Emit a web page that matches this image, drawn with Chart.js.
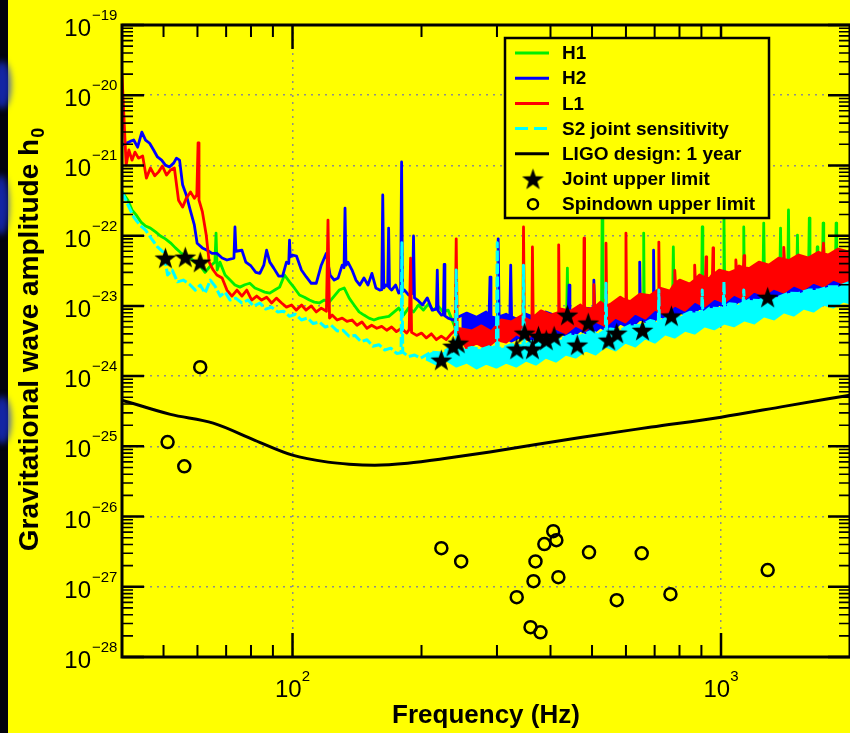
<!DOCTYPE html>
<html>
<head>
<meta charset="utf-8">
<title>S2 pulsar upper limits</title>
<script src="https://cdn.jsdelivr.net/npm/chart.js@4.4.1/dist/chart.umd.min.js"></script>
<style>
  html, body { margin: 0; padding: 0; background: #03030c; overflow: hidden; }
  canvas { display: block; }
</style>
</head>
<body>
<canvas id="chart" width="862" height="733"></canvas>
<script>
// values (Hz, strain amplitude)

// H1
const h1Freq = [
  40, 41.3, 42.2, 43.1, 44.3, 45.4, 46.6, 47.9, 49.2, 50.5,
  51.9, 53.3, 54.7, 56.2, 57.7, 59.3, 60.9, 62.5, 64.3, 65.9,
  66.3, 66.7, 67.7, 69.6, 71.5, 73.4, 75.4, 77.4, 79.5, 81.7,
  83.9, 86.1, 88.5, 90.9, 93.3, 95.8, 98.4, 101, 103.8, 106.6,
  109.5, 112.4, 115.5, 118.6, 121.8, 125.1, 128.5, 132, 135.6, 139.2,
  143, 146.8, 150.8, 154.9, 159.1, 167.8, 176.9, 181.6, 186.5, 191.6,
  196.8, 202, 207.5, 213, 218.8, 224.6, 230.7, 241, 270, 300,
  350, 400, 436, 438, 440, 480, 526, 528, 530, 600,
  658, 660, 662, 720, 771, 774, 777, 840, 901, 904,
  907, 960, 1012, 1016, 1020, 1070, 1126, 1130, 1134, 1190,
  1253, 1258, 1263, 1320, 1372, 1377, 1382, 1432, 1437, 1442,
  1503, 1508, 1513, 1555, 1601, 1607, 1613, 1671, 1677, 1683,
  1725, 1731, 1737, 1790, 1850, 1856, 1862, 2000
];
const h1Amp = [
  4.2e-22, 3.2e-22, 2.33e-22, 2.0e-22, 1.56e-22, 1.37e-22, 1.28e-22, 1.13e-22, 9.9e-23, 9.0e-23,
  7.9e-23, 6.7e-23, 5.8e-23, 5.1e-23, 4.8e-23, 4.2e-23, 3.7e-23, 3.0e-23, 3.7e-23, 4.2e-23,
  1.09e-22, 3.24e-23, 4.2e-23, 2.75e-23, 2.33e-23, 1.98e-23, 1.85e-23, 2.0e-23, 2.1e-23, 1.8e-23,
  1.68e-23, 1.57e-23, 1.52e-23, 1.68e-23, 1.85e-23, 2.75e-23, 2.2e-23, 1.8e-23, 1.43e-23, 1.33e-23,
  1.21e-23, 1.13e-23, 1.1e-23, 1.21e-23, 1.13e-23, 1.38e-23, 1.68e-23, 1.8e-23, 1.29e-23, 1.03e-23,
  8.2e-24, 7.4e-24, 6.7e-24, 6.3e-24, 6.7e-24, 7.1e-24, 9.3e-24, 7.4e-24, 9.3e-24, 8.2e-24,
  1.03e-23, 8.7e-24, 1.06e-23, 8.7e-24, 9.9e-24, 8.2e-24, 8.7e-24, 4.5e-24, 3.8e-24, 4.4e-24,
  5.0e-24, 5.6e-24, 5.0e-24, 3.45e-23, 5.0e-24, 5.8e-24, 6.5e-24, 2.32e-22, 6.5e-24, 8.0e-24,
  1.0e-23, 1.09e-22, 1.0e-23, 1.2e-23, 1.3e-23, 6.9e-23, 1.3e-23, 1.45e-23, 1.6e-23, 1.33e-22,
  1.6e-23, 1.75e-23, 1.9e-23, 1.97e-22, 1.9e-23, 2.05e-23, 2.2e-23, 1.33e-22, 2.2e-23, 2.35e-23,
  2.5e-23, 1.51e-22, 2.5e-23, 2.65e-23, 2.8e-23, 1.28e-22, 2.8e-23, 2.9e-23, 2.32e-22, 2.9e-23,
  3.0e-23, 1.02e-22, 3.0e-23, 3.1e-23, 3.2e-23, 1.78e-22, 3.2e-23, 3.4e-23, 6.9e-23, 3.4e-23,
  3.5e-23, 1.51e-22, 3.5e-23, 3.65e-23, 3.8e-23, 1.51e-22, 3.8e-23, 4.05e-23
];

// H2 (upper edge of the trace, then the floor of its band)
const h2Freq = [
  40, 40.9, 41.8, 42.6, 43.5, 44.5, 45.4, 46.4, 47.4, 48.4,
  49.5, 50.5, 51.6, 52.8, 53.6, 54.5, 55.4, 56.5, 57.7, 59,
  59.9, 61.6, 63.2, 64.9, 66.6, 68.5, 70.3, 73.0, 73.4, 73.8,
  76.2, 77.8, 80, 82.1, 83.9, 85.7, 87, 88.5, 90.4, 92.8,
  94.8, 96.8, 98, 98.4, 98.8, 100, 102.2, 104.9, 107.7, 110.6,
  113.6, 116.7, 119.9, 122.4, 125.1, 127.8, 130.6, 131.9, 132.6, 133.3,
  134.7, 137.7, 140.6, 143.6, 146.8, 150, 153.2, 156.5, 159.8, 161.5,
  162.4, 163.3, 165, 166.8, 167.6, 168.4, 170.3, 174, 176.9, 178.8,
  179.7, 180.6, 182.5, 186.5, 190.6, 191.6, 192.6, 195.8, 201, 206.3,
  211.8, 216.7, 217.7, 218.7, 222.6, 225, 225.9, 226.8, 230.7, 237,
  241, 255, 269, 283, 287.5, 289, 290.5, 299, 301, 302,
  303.5, 315, 321.5, 323, 324.5, 333, 351, 370, 390, 412,
  434, 440, 442, 444, 458, 483, 503, 505, 507, 509,
  537, 567, 598, 630, 644, 646, 648, 665, 694, 696,
  698, 701, 740, 780, 823, 868, 915, 965, 1018, 1073,
  1132, 1194, 1259, 1328, 1401, 1478, 1559, 1644, 1734, 1829,
  1929, 2000
];
const h2Amp = [
  1.95e-21, 2.07e-21, 2.2e-21, 2.3e-21, 1.82e-21, 2.98e-21, 2.3e-21, 2.07e-21, 1.66e-21, 1.32e-21,
  1.19e-21, 1.01e-21, 9.5e-22, 1.08e-21, 1.27e-21, 1.19e-21, 5.3e-22, 3.8e-22, 2.33e-22, 1.42e-22,
  7.8e-23, 6.7e-23, 6.2e-23, 5.6e-23, 5.6e-23, 4.8e-23, 4.5e-23, 4.8e-23, 1.33e-22, 6.0e-23,
  6.2e-23, 4.2e-23, 3.7e-23, 3.0e-23, 2.9e-23, 3.8e-23, 6.2e-23, 4.2e-23, 3.45e-23, 2.66e-23,
  2.66e-23, 4.2e-23, 4.0e-23, 8.6e-23, 5.0e-23, 5.3e-23, 5.1e-23, 3.24e-23, 2.58e-23, 2.1e-23,
  2.1e-23, 3.8e-23, 5.6e-23, 2.75e-23, 2.33e-23, 2.5e-23, 3.8e-23, 3.5e-23, 2.46e-22, 3.8e-23,
  4.2e-23, 3.24e-23, 2.33e-23, 1.98e-23, 2.5e-23, 1.98e-23, 2.9e-23, 1.8e-23, 1.68e-23, 1.7e-23,
  3.8e-22, 1.8e-23, 1.98e-23, 1.9e-23, 1.28e-22, 1.8e-23, 1.68e-23, 1.98e-23, 1.52e-23, 1.6e-23,
  1.12e-21, 1.6e-23, 1.68e-23, 1.43e-23, 1.5e-23, 9.9e-23, 1.3e-23, 1.21e-23, 1.03e-23, 1.3e-23,
  8.7e-24, 9.0e-24, 3.24e-23, 8.5e-24, 7.4e-24, 7.5e-24, 3.9e-23, 7.2e-24, 6.7e-24, 6.3e-24,
  6.7e-24, 7.9e-24, 6.9e-24, 8.2e-24, 7.0e-24, 2.57e-23, 7.0e-24, 6.7e-24, 6.8e-24, 9.0e-23,
  7.0e-24, 7.6e-24, 7.0e-24, 3.8e-23, 7.0e-24, 6.5e-24, 7.6e-24, 6.7e-24, 8.2e-24, 7.2e-24,
  8.7e-24, 8.0e-24, 1.98e-23, 8.0e-24, 7.6e-24, 9.3e-24, 9.0e-24, 2.33e-23, 9.0e-24, 8.2e-24,
  1.03e-23, 9.0e-24, 1.13e-23, 9.9e-24, 1.2e-23, 4.2e-23, 1.2e-23, 1.29e-23, 1.4e-23, 6.2e-23,
  1.4e-23, 1.13e-23, 1.47e-23, 1.29e-23, 1.62e-23, 1.43e-23, 1.79e-23, 1.57e-23, 1.98e-23, 1.73e-23,
  2.18e-23, 1.91e-23, 2.4e-23, 2.1e-23, 2.66e-23, 2.33e-23, 2.84e-23, 2.58e-23, 3.13e-23, 2.75e-23,
  3.45e-23, 3.24e-23
];
const h2FloorFreq = [
  248, 262, 276, 291, 307, 324, 342, 360, 380, 401,
  423, 446, 470, 496, 523, 552, 582, 614, 647, 683,
  720, 760, 801, 845, 891, 940, 991, 1045, 1102, 1163,
  1226, 1293, 1364, 1439, 1518, 1601, 1688, 1781, 1878, 1981,
  2000
];
const h2FloorAmp = [
  4.2e-24, 3.4e-24, 4.0e-24, 3.3e-24, 3.85e-24, 3.15e-24, 3.7e-24, 3.15e-24, 3.85e-24, 3.3e-24,
  4.1e-24, 3.5e-24, 4.5e-24, 3.85e-24, 5.0e-24, 4.2e-24, 5.7e-24, 4.8e-24, 6.5e-24, 5.5e-24,
  7.2e-24, 6.3e-24, 8.2e-24, 7.2e-24, 9.3e-24, 8.2e-24, 1.06e-23, 9.3e-24, 1.17e-23, 1.03e-23,
  1.29e-23, 1.17e-23, 1.43e-23, 1.29e-23, 1.57e-23, 1.43e-23, 1.73e-23, 1.57e-23, 1.98e-23, 1.73e-23,
  1.91e-23
];

// L1
const l1Freq = [
  40, 40.9, 41.5, 42.2, 42.9, 43.7, 44.7, 45.6, 46.6, 47.7,
  48.7, 49.7, 50.8, 51.9, 53, 54.2, 55.4, 56.5, 57.8, 59,
  59.8, 60.2, 60.5, 61.6, 62.9, 63.9, 65.3, 66.6, 68.5, 70.3,
  72.2, 74.2, 76.2, 78.2, 80.3, 82.5, 84.7, 87, 89.4, 91.7,
  94.3, 96.8, 99.5, 102, 105, 107.5, 110.6, 113.6, 116.7, 120,
  121, 122, 123.7, 127.1, 130.6, 134, 137.7, 141.4, 145.2, 149.2,
  153, 157.3, 161.5, 165.9, 170.3, 174.8, 179.7, 184.6, 187.2, 188.6,
  189.6, 194.8, 200, 205.3, 210.9, 216.6, 222.4, 228.4, 234.5, 239.6,
  241, 242.3,
  248, 262, 276, 291, 307, 324, 342, 345, 346, 347.5,
  360, 362, 363, 364.5, 380, 401, 417, 418, 419.5, 423,
  446, 470, 478, 479, 480.5, 496, 503, 505, 507, 523,
  538, 539, 541, 552, 582, 598, 600, 602, 614, 647,
  683, 714, 716, 718, 720, 760, 777, 780, 783, 801,
  845, 865, 868, 871, 891, 920, 923, 926, 940, 955,
  958, 961, 991, 1045, 1079, 1083, 1087, 1102, 1128, 1132,
  1136, 1163, 1226, 1293, 1364, 1396, 1401, 1406, 1439, 1518,
  1601, 1688, 1728, 1734, 1740, 1781, 1878, 1981, 2000
];
const l1Amp = [
  1.94e-20, 1.01e-21, 1.66e-21, 1.19e-21, 1.55e-21, 1.27e-21, 1.36e-21, 6.6e-22, 9.2e-22, 7.1e-22,
  8.1e-22, 9.8e-22, 7.3e-22, 8.6e-22, 9.2e-22, 3.2e-22, 2.55e-22, 3.4e-22, 4.2e-22, 3.4e-22,
  3.8e-22, 2.1e-21, 3.2e-22, 2.2e-22, 1.02e-22, 4.2e-23, 3.24e-23, 2.75e-23, 2.5e-23, 1.68e-23,
  1.38e-23, 1.68e-23, 1.38e-23, 1.68e-23, 1.21e-23, 1.38e-23, 1.21e-23, 1.33e-23, 1.1e-23, 1.29e-23,
  1.1e-23, 9.6e-24, 1.03e-23, 8.7e-24, 1.03e-23, 8.7e-24, 1.0e-23, 8.2e-24, 9.3e-24, 8.4e-24,
  1.67e-22, 6.7e-24, 7.4e-24, 6.3e-24, 6.7e-24, 6.0e-24, 6.3e-24, 5.3e-24, 5.9e-24, 4.8e-24,
  5.3e-24, 4.8e-24, 5.1e-24, 4.5e-24, 5.0e-24, 4.3e-24, 4.8e-24, 4.1e-24, 4.6e-24, 4.8e-23,
  4.2e-24, 3.8e-24, 4.1e-24, 3.5e-24, 4.0e-24, 3.3e-24, 3.7e-24, 3.3e-24, 4.0e-24, 4.5e-24,
  9.0e-23, 4.8e-24,
  4.7e-24, 4.4e-24, 5.2e-24, 4.3e-24, 6.3e-24, 5.9e-24, 7.2e-24, 7.0e-24, 1.33e-22, 6.8e-24,
  6.0e-24, 6.5e-24, 6.9e-23, 6.8e-24, 8.5e-24, 7.4e-24, 8.0e-24, 7.4e-23, 8.2e-24, 9.0e-24,
  8.4e-24, 1.03e-23, 9.0e-24, 9.2e-23, 9.3e-24, 9.0e-24, 9.5e-24, 2.0e-23, 9.5e-24, 1.13e-23,
  1.0e-23, 7.8e-23, 1.0e-23, 1.05e-23, 1.33e-23, 1.2e-23, 1.09e-22, 1.2e-23, 1.15e-23, 1.47e-23,
  1.4e-23, 1.7e-23, 8.1e-23, 1.75e-23, 1.79e-23, 1.62e-23, 2.0e-23, 3.2e-23, 2.1e-23, 2.33e-23,
  2.05e-23, 2.3e-23, 3.8e-23, 2.4e-23, 2.75e-23, 2.5e-23, 5.0e-23, 2.5e-23, 2.45e-23, 2.8e-23,
  6.7e-23, 2.8e-23, 3.24e-23, 2.95e-23, 3.2e-23, 4.5e-23, 3.2e-23, 3.7e-23, 3.5e-23, 5.2e-23,
  3.5e-23, 3.4e-23, 4.2e-23, 3.8e-23, 4.8e-23, 4.6e-23, 6.8e-23, 4.6e-23, 4.4e-23, 5.3e-23,
  4.8e-23, 5.8e-23, 5.5e-23, 7.8e-23, 5.5e-23, 5.3e-23, 6.45e-23, 5.9e-23, 6.2e-23
];
const l1FloorFreq = [
  241, 255, 269, 283, 299, 315, 333, 351, 370, 390,
  412, 434, 458, 483, 509, 537, 567, 598, 630, 665,
  701, 740, 780, 823, 868, 915, 965, 1018, 1073, 1132,
  1194, 1259, 1328, 1401, 1478, 1559, 1644, 1734, 1829, 1929,
  2000
];
const l1FloorAmp = [
  4.4e-24, 2.5e-24, 2.95e-24, 2.5e-24, 3.3e-24, 3.05e-24, 4.0e-24, 3.4e-24, 4.35e-24, 3.7e-24,
  4.8e-24, 4.1e-24, 5.3e-24, 4.5e-24, 6.1e-24, 5.2e-24, 6.9e-24, 5.9e-24, 7.9e-24, 6.7e-24,
  9.0e-24, 7.6e-24, 1.03e-23, 8.7e-24, 1.17e-23, 9.9e-24, 1.29e-23, 1.13e-23, 1.47e-23, 1.25e-23,
  1.62e-23, 1.43e-23, 1.79e-23, 1.57e-23, 1.98e-23, 1.73e-23, 2.18e-23, 1.91e-23, 2.4e-23, 2.1e-23,
  2.49e-23
];

// S2 joint sensitivity
const s2Freq = [
  40, 41.3, 42.6, 44, 45.4, 46.9, 48.4, 50, 51.1, 52.4,
  53.9, 55.6, 57.4, 59.3, 60.9, 62.5, 64.3, 66, 67.8, 69.6,
  71.5, 73.7, 76.2, 78.7, 81.2, 83.9, 86.6, 89.4, 92.3, 95.3,
  98.4, 101.6, 104.9, 108.3, 111.8, 115.5, 119.2, 123.1, 127.1, 131.2,
  135.5, 139.9, 144.4, 149.2, 154, 159.1, 164.2, 169.6, 175.1, 179.2,
  180, 180.8, 186.5, 192.7, 199, 211, 223, 235, 240, 241,
  242.5, 248, 262, 276, 291, 299, 300.5, 302, 307, 324,
  342, 345, 346, 347.5, 360, 380, 401, 423, 446, 470,
  496, 523, 537, 539, 541, 552, 582, 614, 647, 683,
  714, 716, 718, 720, 760, 801, 845, 891, 901, 904,
  907, 940, 991, 1012, 1016, 1020, 1045, 1102, 1126, 1130,
  1134, 1163, 1226, 1293, 1364, 1439, 1518, 1601, 1688, 1781,
  1878, 1981, 2000
];
const s2Amp = [
  4.2e-22, 2.75e-22, 1.84e-22, 1.42e-22, 1.2e-22, 9.0e-23, 6.9e-23, 5.8e-23, 2.75e-23, 3.24e-23,
  2.2e-23, 2.33e-23, 2.05e-23, 1.68e-23, 1.98e-23, 1.52e-23, 2.33e-23, 1.9e-23, 1.38e-23, 1.57e-23,
  1.21e-23, 1.29e-23, 1.1e-23, 1.21e-23, 9.9e-24, 1.1e-23, 9.0e-24, 9.6e-24, 8.2e-24, 8.4e-24,
  7.1e-24, 7.6e-24, 6.3e-24, 6.7e-24, 5.6e-24, 5.9e-24, 5.0e-24, 5.3e-24, 4.4e-24, 4.5e-24,
  3.7e-24, 3.8e-24, 3.1e-24, 3.3e-24, 2.66e-24, 2.8e-24, 2.35e-24, 2.5e-24, 2.1e-24, 2.15e-24,
  7.9e-23, 2.2e-24, 1.9e-24, 2.0e-24, 1.8e-24, 2.2e-24, 2.13e-24, 2.59e-24, 2.4e-24, 3.24e-23,
  2.4e-24, 2.35e-24, 2.55e-24, 2.4e-24, 2.7e-24, 2.5e-24, 7.9e-23, 2.5e-24, 2.5e-24, 2.8e-24,
  2.7e-24, 2.7e-24, 3.8e-23, 2.7e-24, 3.1e-24, 3.0e-24, 3.5e-24, 3.3e-24, 3.9e-24, 3.7e-24,
  4.3e-24, 4.0e-24, 4.5e-24, 2.1e-23, 4.5e-24, 4.7e-24, 4.5e-24, 5.3e-24, 5.2e-24, 6.2e-24,
  5.8e-24, 1.68e-23, 5.8e-24, 6.0e-24, 7.1e-24, 7.0e-24, 8.1e-24, 8.0e-24, 7.8e-24, 1.68e-23,
  7.8e-24, 9.3e-24, 9.2e-24, 9.5e-24, 2.2e-23, 9.5e-24, 1.07e-23, 1.04e-23, 1.1e-23, 1.68e-23,
  1.1e-23, 1.21e-23, 1.19e-23, 1.35e-23, 1.33e-23, 1.52e-23, 1.5e-23, 1.68e-23, 1.68e-23, 1.87e-23,
  1.87e-23, 2.12e-23, 2.1e-23
];
const s2FloorFreq = [
  205, 217, 229, 241, 255, 269, 283, 299, 315, 333,
  351, 370, 390, 412, 434, 458, 483, 509, 537, 567,
  598, 630, 665, 701, 740, 780, 823, 868, 915, 965,
  1018, 1073, 1132, 1194, 1259, 1328, 1401, 1478, 1559, 1644,
  1734, 1829, 1929, 2000
];
const s2FloorAmp = [
  1.75e-24, 1.48e-24, 1.69e-24, 1.39e-24, 1.58e-24, 1.3e-24, 1.53e-24, 1.34e-24, 1.58e-24, 1.39e-24,
  1.69e-24, 1.48e-24, 1.86e-24, 1.63e-24, 2.06e-24, 1.86e-24, 2.35e-24, 2.06e-24, 2.68e-24, 2.35e-24,
  3.05e-24, 2.68e-24, 3.5e-24, 3.05e-24, 4.0e-24, 3.6e-24, 4.5e-24, 4.1e-24, 5.2e-24, 4.7e-24,
  5.7e-24, 5.2e-24, 6.3e-24, 5.7e-24, 7.2e-24, 6.5e-24, 8.2e-24, 7.4e-24, 9.3e-24, 8.4e-24,
  1.06e-23, 9.6e-24, 1.17e-23, 1.1e-23
];

// LIGO design, 1 year
const designFreq = [40, 51.9, 65.3, 81.7, 100, 121, 135.5, 155.6, 185.6, 230.7, 288.8, 474, 688, 1000, 1414, 2000];
const designAmp = [4.55e-25, 2.85e-25, 2.14e-25, 1.22e-25, 7.5e-26, 5.96e-26, 5.57e-26, 5.4e-26, 5.75e-26, 6.8e-26, 8.3e-26, 1.35e-25, 1.88e-25, 2.6e-25, 3.74e-25, 5.36e-25];

// joint upper limits (stars)
const jointFreq = [50.5, 56.2, 60.9, 222.5, 237, 243.6, 333.6, 348, 363, 375, 391, 408, 438, 462, 490, 547, 571, 656, 766, 1285];
const jointAmp = [4.8e-23, 4.95e-23, 4.2e-23, 1.69e-24, 2.67e-24, 2.95e-24, 2.43e-24, 4.1e-24, 2.43e-24, 3.7e-24, 3.26e-24, 3.7e-24, 7.4e-24, 2.77e-24, 5.7e-24, 3.26e-24, 4.1e-24, 4.5e-24, 7.2e-24, 1.33e-23];

// spindown upper limits (circles)
const spindownFreq = [51.1, 55.9, 60.9, 222.5, 247.5, 333.6, 359.3, 365.1, 369, 379, 387, 406, 412.8, 417.3, 492, 571, 653, 762, 1285];
const spindownAmp = [1.15e-25, 5.2e-26, 1.34e-24, 3.55e-27, 2.3e-27, 7.1e-28, 2.66e-28, 1.2e-27, 2.3e-27, 2.25e-28, 4.05e-27, 6.2e-27, 4.6e-27, 1.37e-27, 3.1e-27, 6.45e-28, 3.0e-27, 7.85e-28, 1.73e-27];

// axes
const xRange = [40, 2000];
const yRange = [1e-28, 1e-19];
const xTickValues = [100, 1000];
const yTickExponents = [-28, -27, -26, -25, -24, -23, -22, -21, -20, -19];
const xTitle = "Frequency (Hz)";
const yTitle = "Gravitational wave amplitude h";
const yTitleSub = "0";

const FONT = "'Liberation Sans', Arial, Helvetica, sans-serif";

function pairs(fs, as) {
  return fs.map((f, i) => ({ x: f, y: as[i] }));
}

// filled five-point star used as the marker
function makeStar(size) {
  const c = document.createElement("canvas");
  c.width = c.height = size;
  const g = c.getContext("2d");
  g.translate(size / 2, size / 2 + 1);
  g.beginPath();
  for (let i = 0; i < 10; i++) {
    const r = i % 2 === 0 ? size / 2 : size * 0.2;
    const a = -Math.PI / 2 + i * Math.PI / 5;
    g.lineTo(r * Math.cos(a), r * Math.sin(a));
  }
  g.closePath();
  g.fillStyle = "#000";
  g.fill();
  return c;
}
const star = makeStar(23);

// yellow page with the dark slide edge on the left
const background = {
  id: "background",
  beforeDraw(chart) {
    const ctx = chart.ctx;
    ctx.save();
    ctx.fillStyle = "#ffff00";
    ctx.fillRect(0, 0, chart.width, chart.height);
    ctx.fillStyle = "#03030c";
    ctx.fillRect(0, 0, 8, chart.height);
    ctx.filter = "blur(3px)";
    ctx.fillStyle = "rgba(25, 50, 215, 0.75)";
    [[2, 85, 9, 24], [1, 205, 8, 30], [2, 420, 9, 24]].forEach(([cx, cy, rx, ry]) => {
      ctx.beginPath();
      ctx.ellipse(cx, cy, rx, ry, 0, 0, Math.PI * 2);
      ctx.fill();
    });
    ctx.restore();
  }
};

// box and inward ticks on all four sides
const axisFrame = {
  id: "axisFrame",
  afterDatasetsDraw(chart) {
    const { ctx, chartArea: a, scales } = chart;
    const xs = scales.x, ys = scales.y;
    ctx.save();
    ctx.strokeStyle = "#000";
    for (let e = 1; e <= 3; e++) {
      for (let m = 1; m <= 9; m++) {
        const v = m * Math.pow(10, e);
        if (v < xs.min || v > xs.max) continue;
        const px = xs.getPixelForValue(v);
        const len = m === 1 ? 24 : 12;
        ctx.lineWidth = m === 1 ? 2.5 : 2;
        ctx.beginPath();
        ctx.moveTo(px, a.bottom); ctx.lineTo(px, a.bottom - len);
        ctx.moveTo(px, a.top); ctx.lineTo(px, a.top + len);
        ctx.stroke();
      }
    }
    for (let e = -28; e <= -19; e++) {
      for (let m = 1; m <= 9; m++) {
        const v = m * Math.pow(10, e);
        if (v > ys.max * 1.001) continue;
        const py = ys.getPixelForValue(v);
        const len = m === 1 ? 22 : 11;
        ctx.lineWidth = m === 1 ? 2.5 : 1.6;
        ctx.beginPath();
        ctx.moveTo(a.left, py); ctx.lineTo(a.left + len, py);
        ctx.moveTo(a.right, py); ctx.lineTo(a.right - len, py);
        ctx.stroke();
      }
    }
    ctx.lineWidth = 3;
    ctx.strokeRect(a.left, a.top, a.right - a.left, a.bottom - a.top);
    ctx.restore();
  }
};

// power-of-ten tick labels and axis titles
const axisText = {
  id: "axisText",
  afterDraw(chart) {
    const { ctx, chartArea: a, scales } = chart;
    ctx.save();
    ctx.fillStyle = "#000";
    ctx.textBaseline = "alphabetic";

    xTickValues.forEach(v => {
      const px = scales.x.getPixelForValue(v);
      const exp = String(Math.round(Math.log10(v)));
      ctx.font = "24px " + FONT;
      const wb = ctx.measureText("10").width;
      ctx.font = "15px " + FONT;
      const we = ctx.measureText(exp).width;
      const sx = px - (wb + we) / 2;
      ctx.textAlign = "left";
      ctx.font = "24px " + FONT;
      ctx.fillText("10", sx, 697);
      ctx.font = "15px " + FONT;
      ctx.fillText(exp, sx + wb, 681);
    });

    yTickExponents.forEach(e => {
      const py = scales.y.getPixelForValue(Math.pow(10, e));
      ctx.font = "24px " + FONT;
      ctx.textAlign = "right";
      ctx.fillText("10", 91, py + 11);
      ctx.font = "15px " + FONT;
      ctx.textAlign = "left";
      ctx.fillText("\u2212" + Math.abs(e), 92, py - 5);
    });

    ctx.font = "bold 26px " + FONT;
    ctx.textAlign = "center";
    ctx.fillText(xTitle, (a.left + a.right) / 2, 723);

    ctx.translate(38, 340);
    ctx.rotate(-Math.PI / 2);
    ctx.font = "bold 28px " + FONT;
    const w1 = ctx.measureText(yTitle).width;
    ctx.font = "bold 18px " + FONT;
    const w2 = ctx.measureText(yTitleSub).width;
    const start = -(w1 + w2) / 2;
    ctx.textAlign = "left";
    ctx.font = "bold 28px " + FONT;
    ctx.fillText(yTitle, start, 0);
    ctx.font = "bold 18px " + FONT;
    ctx.fillText(yTitleSub, start + w1 + 1, 6);
    ctx.restore();
  }
};

// boxed legend in the upper right of the plot
const legendBox = {
  id: "legendBox",
  afterDraw(chart) {
    const ctx = chart.ctx;
    const items = chart.data.datasets.filter(d => d.inLegend);
    const left = 505, top = 38, width = 264, height = 180, rowH = 25.2;
    ctx.save();
    ctx.fillStyle = "#ffff00";
    ctx.fillRect(left, top, width, height);
    ctx.lineWidth = 2.5;
    ctx.strokeStyle = "#000";
    ctx.strokeRect(left, top, width, height);
    ctx.font = "bold 19px " + FONT;
    ctx.textBaseline = "middle";
    ctx.textAlign = "left";
    items.forEach((d, i) => {
      const cy = top + 15 + i * rowH;
      if (d.showLine === false) {
        if (d.pointStyle === star) {
          ctx.drawImage(star, 533 - star.width / 2, cy - star.height / 2);
        } else {
          ctx.beginPath();
          ctx.arc(533, cy, 5, 0, Math.PI * 2);
          ctx.lineWidth = 2.5;
          ctx.strokeStyle = "#000";
          ctx.stroke();
        }
      } else {
        ctx.beginPath();
        ctx.setLineDash(d.legendDash || []);
        ctx.strokeStyle = d.borderColor;
        ctx.lineWidth = 3;
        ctx.moveTo(515, cy);
        ctx.lineTo(549, cy);
        ctx.stroke();
        ctx.setLineDash([]);
      }
      ctx.fillStyle = "#000";
      ctx.fillText(d.label, 562, cy + 1);
    });
    ctx.restore();
  }
};

const trace = { pointRadius: 0, borderWidth: 2.8, borderJoinStyle: "round", tension: 0 };

new Chart(document.getElementById("chart"), {
  type: "line",
  data: {
    datasets: [
      { ...trace, label: "H1", inLegend: true, data: pairs(h1Freq, h1Amp),
        borderColor: "#00ee00", fill: false, order: 10 },
      { ...trace, label: "H2", inLegend: true, data: pairs(h2Freq, h2Amp),
        borderColor: "#0000ff", backgroundColor: "#0000ff", fill: "+1", order: 8 },
      { ...trace, label: "H2 floor", data: pairs(h2FloorFreq, h2FloorAmp),
        borderColor: "#0000ff", fill: false, order: 9 },
      { ...trace, label: "L1", inLegend: true, data: pairs(l1Freq, l1Amp),
        borderColor: "#ff0000", backgroundColor: "#ff0000", fill: "+1", order: 6 },
      { ...trace, label: "L1 floor", data: pairs(l1FloorFreq, l1FloorAmp),
        borderColor: "#ff0000", fill: false, order: 7 },
      { ...trace, label: "S2 joint sensitivity", inLegend: true, data: pairs(s2Freq, s2Amp),
        borderColor: "#00ffff", backgroundColor: "#00ffff", borderWidth: 3,
        borderDash: [10, 3], legendDash: [13, 6], fill: "+1", order: 4 },
      { ...trace, label: "S2 floor", data: pairs(s2FloorFreq, s2FloorAmp),
        borderColor: "#00ffff", fill: false, order: 5 },
      { label: "LIGO design: 1 year", inLegend: true, data: pairs(designFreq, designAmp),
        borderColor: "#000", borderWidth: 3, pointRadius: 0, fill: false,
        cubicInterpolationMode: "monotone", order: 3 },
      { label: "Joint upper limit", inLegend: true, data: pairs(jointFreq, jointAmp),
        showLine: false, pointStyle: star, pointRadius: 11, order: 2 },
      { label: "Spindown upper limit", inLegend: true, data: pairs(spindownFreq, spindownAmp),
        showLine: false, pointStyle: "circle", pointRadius: 6, borderWidth: 2.5,
        borderColor: "#000", backgroundColor: "rgba(0,0,0,0)", order: 1 }
    ]
  },
  options: {
    responsive: false,
    animation: false,
    devicePixelRatio: 1,
    events: [],
    layout: { padding: { top: 25, right: 7, left: 0, bottom: 0 } },
    plugins: { legend: { display: false }, tooltip: { enabled: false } },
    scales: {
      x: {
        type: "logarithmic",
        min: xRange[0],
        max: xRange[1],
        afterBuildTicks: s => { s.ticks = xTickValues.map(v => ({ value: v })); },
        afterFit: s => { s.height = 76; },
        ticks: { display: false },
        grid: { color: "#8c8c8c", lineWidth: 1.5, drawTicks: false },
        border: { display: false, dash: [2, 5] }
      },
      y: {
        type: "logarithmic",
        min: yRange[0],
        max: yRange[1],
        afterBuildTicks: s => { s.ticks = yTickExponents.map(e => ({ value: Math.pow(10, e) })); },
        afterFit: s => { s.width = 122; },
        ticks: { display: false },
        grid: { color: "#8c8c8c", lineWidth: 1.5, drawTicks: false },
        border: { display: false, dash: [2, 5] }
      }
    }
  },
  plugins: [background, axisFrame, axisText, legendBox]
});
</script>
</body>
</html>
